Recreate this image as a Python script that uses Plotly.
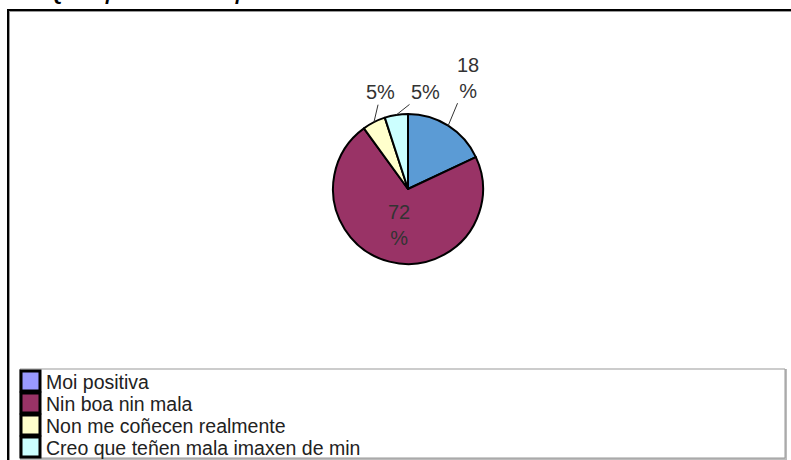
import math
import plotly.graph_objects as go

W, H = 791, 460

# ---- data ----
title_text = "Que opinión crees que ten de ti o alumnado?"
categories = ["Moi positiva", "Nin boa nin mala", "Non me coñecen realmente",
              "Creo que teñen mala imaxen de min"]
values = [18, 72, 5, 5]

# ---- styles ----
slice_colors = ["#5B9BD5", "#993366", "#FFFFCC", "#CCFFFF"]
legend_colors = ["#9999FF", "#993366", "#FFFFCC", "#CCFFFF"]
# (inside?, wrap percent sign?, ax, ay)
label_style = [(False, True, 20, -48), (True, True, 0, 0),
               (False, False, 7, -30), (False, False, 29, -23)]

cx, cy, r = 408, 189, 75  # pie centre/radius in pixels

fig = go.Figure()
fig.add_trace(go.Pie(
    labels=categories, values=values, sort=False, direction="clockwise",
    rotation=0, textinfo="none", showlegend=False, hoverinfo="label+percent",
    marker=dict(colors=slice_colors, line=dict(color="black", width=2)),
    domain=dict(x=[(cx - r) / W, (cx + r) / W], y=[1 - (cy + r) / H, 1 - (cy - r) / H]),
))

annotations = []
shapes = []
total = sum(values)
cum = 0
for v, (inside, wrap, ax, ay) in zip(values, label_style):
    mid = (cum + v / 2) / total * 2 * math.pi
    cum += v
    pct = round(v / total * 100)
    txt = f"{pct}<br>%" if wrap else f"{pct}%"
    rr = 0.5 * r if inside else r
    px = cx + rr * math.sin(mid)
    py = cy - rr * math.cos(mid)
    annotations.append(dict(
        x=px / W, y=1 - py / H, xref="paper", yref="paper", text=txt,
        showarrow=not inside, ax=ax, ay=ay, arrowhead=0, arrowwidth=1,
        arrowcolor="#333333", standoff=0,
        font=dict(family="Arial, Liberation Sans", size=20, color="#333333"),
    ))

# title (mostly cut off at top, as in the original)
annotations.append(dict(
    x=47 / W, y=1, xref="paper", yref="paper", xanchor="left", yanchor="middle",
    yshift=7, text=f"<b><i>{title_text}</i></b>", showarrow=False,
    font=dict(family="Arial, Liberation Sans", size=20, color="black"),
))

# outer frame (extends beyond the visible area on right/bottom)
shapes.append(dict(type="rect", xref="paper", yref="paper",
                   x0=9 / W, x1=1.2, y0=-0.2, y1=1 - 11 / H,
                   line=dict(color="#999999", width=2), fillcolor="rgba(0,0,0,0)"))
shapes.append(dict(type="rect", xref="paper", yref="paper",
                   x0=8 / W, x1=1.2, y0=-0.2, y1=1 - 10 / H,
                   line=dict(color="black", width=2), fillcolor="rgba(0,0,0,0)"))

# legend box
shapes.append(dict(type="rect", xref="paper", yref="paper",
                   x0=21 / W, x1=786 / W, y0=1 - 459 / H, y1=1 - 370 / H,
                   line=dict(color="#BBBBBB", width=2), fillcolor="rgba(0,0,0,0)"))
shapes.append(dict(type="rect", xref="paper", yref="paper",
                   x0=20 / W, x1=785 / W, y0=1 - 458 / H, y1=1 - 369 / H,
                   line=dict(color="#999999", width=1), fillcolor="white"))

row_h = 22
for i, (lab, col) in enumerate(zip(categories, legend_colors)):
    top = 371 + row_h * i
    shapes.append(dict(type="rect", xref="paper", yref="paper",
                       x0=21 / W, x1=40 / W, y0=1 - (top + 20) / H, y1=1 - top / H,
                       line=dict(color="black", width=3), fillcolor=col))
    annotations.append(dict(
        x=44 / W, y=1 - (top + 10.5) / H, xref="paper", yref="paper",
        xanchor="left", yanchor="middle", text=lab, showarrow=False,
        font=dict(family="Arial, Liberation Sans", size=19.5, color="#222222"),
    ))

fig.update_layout(
    width=W, height=H, margin=dict(l=0, r=0, t=0, b=0),
    paper_bgcolor="white", plot_bgcolor="white",
    annotations=annotations, shapes=shapes,
)

fig.write_html("out.html", config={"displayModeBar": False},
               post_script="document.body.style.margin='0';document.body.style.overflow='hidden';")
